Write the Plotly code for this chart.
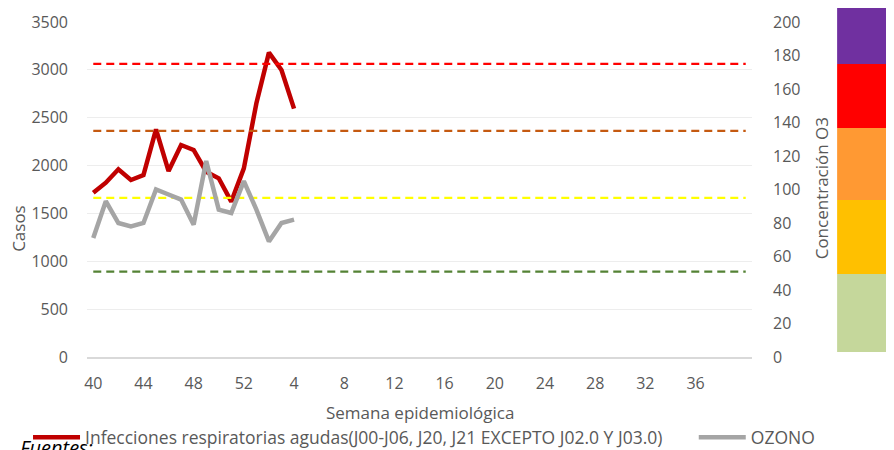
import plotly.graph_objects as go

# --- data ---
weeks = list(range(40, 53)) + list(range(1, 41))
ira_cases = [1716, 1821, 1961, 1849, 1901, 2379, 1943, 2215, 2163, 1936, 1867, 1623,
             1971, 2651, 3180, 2999, 2595]
ozone = [71, 93, 80, 78, 80, 100, 97, 94, 79, 117, 88, 86, 105, 88, 69, 80, 82]
thresholds = [51, 95, 135, 175]
threshold_colors = ["#548235", "#FFFF00", "#C55A11", "#FF0000"]
band_edges = [3, 49.6, 93.7, 136.7, 175, 214]
band_colors = ["#C5D79B", "#FFC000", "#FF9933", "#FF0000", "#7030A0"]
tick_idx = list(range(0, 52, 4))
tick_labels = [str(weeks[i]) for i in tick_idx]

x_all = list(range(len(weeks)))
TXT = "#595959"
FONT = "Open Sans"

fig = go.Figure()
for v, c in zip(thresholds, threshold_colors):
    fig.add_trace(go.Scatter(x=[x_all[0], x_all[-1]], y=[v, v], yaxis="y2", mode="lines",
                             line=dict(color=c, width=2.2, dash="8px,5px"),
                             showlegend=False, hoverinfo="skip"))

fig.add_trace(go.Scatter(x=x_all[:len(ira_cases)], y=ira_cases, mode="lines",
                         name="Infecciones respiratorias agudas(J00-J06, J20, J21 EXCEPTO J02.0 Y J03.0)",
                         line=dict(color="#C00000", width=4.5), legend="legend"))
fig.add_trace(go.Scatter(x=x_all[:len(ozone)], y=ozone, mode="lines", yaxis="y2",
                         name="OZONO", line=dict(color="#A5A5A5", width=4.5), legend="legend2"))

# colour scale bands to the right (in O3 units converted to paper fraction)
shapes = []
for i, c in enumerate(band_colors):
    shapes.append(dict(type="rect", xref="paper", yref="paper",
                       x0=1.128, x1=1.22, y0=band_edges[i] / 200, y1=band_edges[i + 1] / 200,
                       fillcolor=c, line=dict(width=0), layer="above"))

leg_common = dict(orientation="h", xanchor="left", y=-0.186, yanchor="top", xref="container",
                  font=dict(size=17.5, color=TXT), bgcolor="rgba(0,0,0,0)", itemwidth=47)

fig.update_layout(
    width=886, height=442,
    margin=dict(l=79, r=142, t=14, b=93, autoexpand=False),
    paper_bgcolor="white", plot_bgcolor="white",
    font=dict(family=FONT, color=TXT, size=16),
    xaxis=dict(range=[-0.5, len(weeks) - 0.5], tickmode="array", tickvals=tick_idx,
               ticktext=tick_labels, showgrid=False, zeroline=False, showline=True,
               linecolor="#D9D9D9", linewidth=2, ticks="", tickfont=dict(size=16, color=TXT),
               ticklabelstandoff=11),
    yaxis=dict(range=[0, 3500], dtick=500, showgrid=True, gridcolor="#EDEDED", gridwidth=1,
               zeroline=False, showline=False, ticks="", tickfont=dict(size=16, color=TXT),
               ticklabelstandoff=18),
    yaxis2=dict(range=[0, 200], dtick=20, overlaying="y", side="right", showgrid=False,
                zeroline=False, showline=False, ticks="", tickfont=dict(size=16, color=TXT),
                ticklabelstandoff=20),
    showlegend=True,
    legend=dict(x=0.0226, **leg_common),
    legend2=dict(x=0.774, **leg_common),
    shapes=shapes,
    annotations=[
        dict(text="Semana epidemiológica", xref="paper", yref="paper", x=0.5, y=-0.167,
             xanchor="center", yanchor="middle", showarrow=False, font=dict(size=17, color=TXT)),
        dict(text="Casos", xref="paper", yref="paper", x=-0.104, y=0.385, textangle=-90,
             xanchor="center", yanchor="middle", showarrow=False, font=dict(size=17, color=TXT)),
        dict(text="Concentración O3", xref="paper", yref="paper", x=1.105, y=0.503,
             textangle=-90, xanchor="center", yanchor="middle", showarrow=False,
             font=dict(size=17, color=TXT)),
        dict(text="<i>Fuentes:</i>", xref="paper", yref="paper", x=(10 - 79) / 665,
             xanchor="left", y=(349 - 424) / 335, yanchor="top", showarrow=False,
             font=dict(size=20, color="#000000")),
    ],
)
fig.write_html("out.html")
